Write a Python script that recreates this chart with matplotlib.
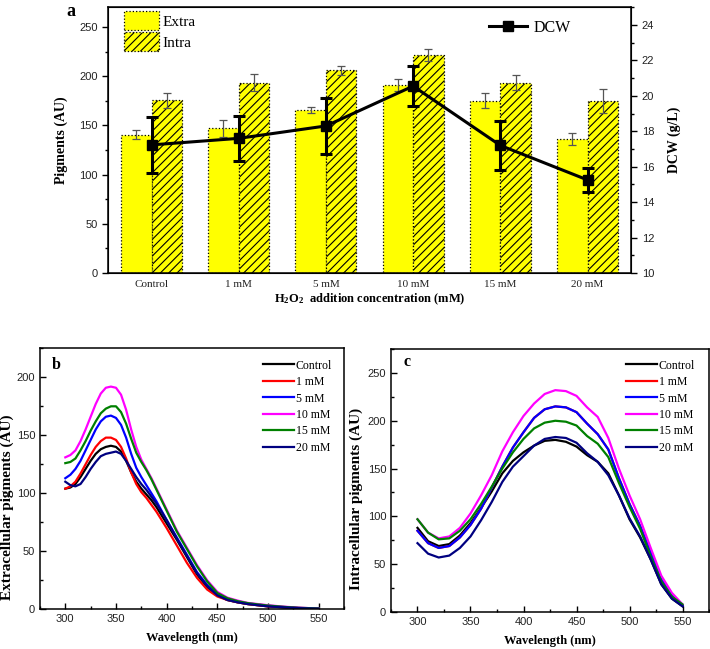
import matplotlib
matplotlib.use("Agg")
import matplotlib.pyplot as plt
import numpy as np
from matplotlib.patches import Patch
from matplotlib.lines import Line2D
from matplotlib.ticker import MultipleLocator

plt.rcParams['font.family'] = ['Liberation Serif', 'DejaVu Serif']
plt.rcParams['mathtext.fontset'] = 'custom'
plt.rcParams['mathtext.rm'] = 'Liberation Serif'
plt.rcParams['mathtext.bf'] = 'Liberation Serif:bold'
plt.rcParams['hatch.linewidth'] = 0.8

# ---------------- Panel a data ----------------
categories = ["Control", "1 mM", "5 mM", "10 mM", "15 mM", "20 mM"]
extra = [140.5, 147, 165.5, 191, 175, 136]
extra_err = [4.5, 8.5, 3, 6, 7.5, 6.3]
intra = [175.5, 193.5, 206, 221.5, 193.5, 175]
intra_err = [7.5, 9, 4.8, 6, 7.7, 12.2]
dcw = [17.23, 17.6, 18.3, 20.55, 17.2, 15.25]
dcw_err = [1.57, 1.28, 1.58, 1.15, 1.37, 0.7]

# ---------------- Panel b data (extracellular) ----------------
wavelength_b = [300, 305, 310, 315, 320, 325, 330, 335, 340, 345, 350, 355, 360, 365, 370, 375,
                380, 385, 390, 395, 400, 410, 420, 430, 440, 450, 460, 470, 480, 490, 500,
                510, 520, 530, 540, 550]
ext_control = [104, 105, 108, 114, 121, 128, 134, 138, 140, 141, 140, 136, 128, 118, 110, 104,
               99, 94, 88, 81, 74, 60, 45, 30, 19, 12, 8, 6, 4.5, 3.5, 2.5, 2, 1.5, 1, 0.8, 0.5]
ext_1mM = [104, 106, 110, 117, 125, 133, 140, 145, 148, 148, 146, 140, 130, 118, 108, 101,
           96, 90, 84, 77, 70, 55, 40, 27, 17, 11, 8, 6, 4.5, 3.5, 2.5, 2, 1.5, 1, 0.8, 0.5]
ext_5mM = [113, 116, 121, 128, 137, 146, 155, 162, 166, 167, 165, 159, 148, 134, 122, 114,
           107, 100, 93, 85, 77, 62, 47, 32, 21, 13, 9, 6.5, 5, 4, 3, 2.2, 1.6, 1.1, 0.8, 0.5]
ext_10mM = [131, 133, 137, 145, 155, 166, 177, 186, 191, 192, 191, 185, 172, 155, 140, 129,
            121, 113, 104, 95, 86, 68, 53, 38, 25, 15, 10, 7.5, 5.5, 4.5, 3.5, 2.7, 2, 1.5, 1, 0.8]
ext_15mM = [126, 127, 130, 137, 145, 154, 162, 169, 173, 175, 175, 170, 160, 147, 135, 127,
            120, 112, 103, 94, 85, 67, 52, 37, 24, 14, 9.5, 7, 5.3, 4.2, 3.2, 2.5, 1.8, 1.3, 1, 0.7]
ext_20mM = [110, 107, 106, 108, 114, 121, 127, 132, 134, 135, 136, 134, 128, 121, 114, 108,
            103, 97, 91, 84, 77, 61, 46, 31, 20, 12, 8, 6, 4.5, 3.5, 2.5, 2, 1.5, 1, 0.8, 0.5]

# ---------------- Panel c data (intracellular) ----------------
wavelength_c = [300, 310, 320, 330, 340, 350, 360, 370, 380, 390, 400, 410, 420,
                430, 440, 450, 460, 470, 480, 490, 500, 510, 520, 530, 540, 550]
int_control = [88, 74, 69, 71, 80, 93, 109, 126, 145, 158, 167, 174, 179, 180, 178, 173, 164, 157, 145, 122, 97, 78, 55, 29, 14, 6]
int_1mM = [85, 72, 67, 69, 78, 91, 108, 130, 152, 172, 188, 203, 212, 215, 214, 209, 197, 186, 170, 140, 113, 90, 62, 34, 17, 7]
int_5mM = [85, 72, 67, 69, 78, 91, 108, 130, 152, 172, 188, 203, 212, 215, 214, 209, 197, 186, 170, 140, 113, 90, 62, 34, 17, 7]
int_10mM = [97, 83, 77, 79, 88, 103, 122, 143, 168, 188, 205, 218, 228, 232, 231, 226, 214, 204, 182, 150, 122, 97, 67, 38, 20, 8]
int_15mM = [97, 83, 76, 77, 85, 97, 113, 131, 150, 167, 181, 192, 198, 200, 199, 195, 184, 176, 162, 135, 110, 87, 58, 32, 16, 8]
int_20mM = [72, 61, 57, 59, 67, 79, 96, 115, 136, 152, 163, 174, 181, 183, 182, 177, 166, 157, 143, 122, 98, 79, 55, 29, 14, 6]

series_labels = ["Control", "1 mM", "5 mM", "10 mM", "15 mM", "20 mM"]
series_colors = ["#000000", "#ff0000", "#0000ff", "#ff00ff", "#008000", "#000080"]
ext_series = [ext_control, ext_1mM, ext_5mM, ext_10mM, ext_15mM, ext_20mM]
int_series = [int_control, int_1mM, int_5mM, int_10mM, int_15mM, int_20mM]

SANS = 'Liberation Sans'
TICKCOL = '#222222'

fig = plt.figure(figsize=(7.10, 6.49), dpi=100)

# ================= Panel a =================
ax = fig.add_axes([0.152, 0.5794, 0.737, 0.4094])
x = np.arange(len(categories))
w = 0.35
yellow = '#ffff00'
ax.bar(x - w / 2, extra, width=w, color=yellow, edgecolor='black', linestyle=':', linewidth=0.9, zorder=2)
ax.bar(x + w / 2, intra, width=w, color=yellow, edgecolor='black', linestyle=':', linewidth=0.9,
       hatch='////', zorder=2)
ax.errorbar(x - w / 2, extra, yerr=extra_err, fmt='none', ecolor='#555555', elinewidth=0.9,
            capsize=3, capthick=0.9, zorder=3)
ax.errorbar(x + w / 2, intra, yerr=intra_err, fmt='none', ecolor='#555555', elinewidth=0.9,
            capsize=3, capthick=0.9, zorder=3)
ax.set_xlim(-0.5, 5.5)
ax.set_ylim(0, 270)
ax.set_xticks(x)
ax.set_xticklabels(categories, fontsize=8)
ax.tick_params(axis='x', length=0, pad=5, colors=TICKCOL)
ax.yaxis.set_major_locator(MultipleLocator(50))
ax.yaxis.set_minor_locator(MultipleLocator(25))
ax.tick_params(axis='y', which='major', direction='out', length=4, width=1)
ax.tick_params(axis='y', which='minor', direction='out', length=2.5, width=1)
for lab in ax.get_yticklabels():
    lab.set_fontfamily(SANS)
    lab.set_fontsize(8)
    lab.set_color(TICKCOL)
ax.set_ylabel("Pigments (AU)", fontsize=10, fontweight='bold', labelpad=8)
ax.set_xlabel(r"$\mathbf{H_2O_2}$  addition concentration (mM)", fontsize=9, fontweight='bold', labelpad=2)
for s in ax.spines.values():
    s.set_linewidth(1.1)

leg_handles = [Patch(facecolor=yellow, edgecolor='black', linestyle=':', linewidth=0.9),
               Patch(facecolor=yellow, edgecolor='black', linestyle=':', linewidth=0.9, hatch='////')]
ax.legend(leg_handles, ["Extra", "Intra"], loc='upper left', bbox_to_anchor=(0.03, 0.985),
          frameon=False, fontsize=11, handlelength=2.3, handleheight=1.55, labelspacing=0.12,
          handletextpad=0.25, borderaxespad=0, borderpad=0)

ax2 = ax.twinx()
ax2.errorbar(x, dcw, yerr=dcw_err, color='black', linewidth=2.2, marker='s', markersize=6.5,
             elinewidth=2.2, capsize=4, capthick=2.2, zorder=5)
ax2.set_ylim(10, 25)
ax2.yaxis.set_major_locator(MultipleLocator(2))
ax2.yaxis.set_minor_locator(MultipleLocator(1))
ax2.tick_params(axis='y', which='major', direction='out', length=4, width=1)
ax2.tick_params(axis='y', which='minor', direction='out', length=2.5, width=1)
for lab in ax2.get_yticklabels():
    lab.set_fontfamily(SANS)
    lab.set_fontsize(8)
    lab.set_color(TICKCOL)
ax2.set_ylabel("DCW (g/L)", fontsize=10, fontweight='bold', labelpad=10)
ax2.legend([Line2D([], [], color='black', linewidth=2.2, marker='s', markersize=6.5)], ["DCW"],
           loc='center left', bbox_to_anchor=(0.728, 0.922), frameon=False, fontsize=11.5,
           handlelength=2.4, handletextpad=0.4, borderaxespad=0, borderpad=0)
fig.text(0.094, 0.995, "a", fontsize=13, fontweight='bold', va='top', ha='left')


def spectrum_panel(rect, wl, series, ylim, ylabel, letter, letter_pos, label_xy, leg_anchor):
    a = fig.add_axes(rect)
    for vals, lab, col in zip(series, series_labels, series_colors):
        a.plot(wl, vals, color=col, linewidth=1.6, label=lab, solid_joinstyle='round')
    a.set_xlim(275, 575)
    a.set_ylim(*ylim)
    a.xaxis.set_major_locator(MultipleLocator(50))
    a.xaxis.set_minor_locator(MultipleLocator(25))
    a.yaxis.set_major_locator(MultipleLocator(50))
    a.yaxis.set_minor_locator(MultipleLocator(25))
    a.tick_params(which='major', direction='in', length=4, width=1)
    a.tick_params(which='minor', direction='in', length=2.5, width=1)
    for lab in a.get_xticklabels() + a.get_yticklabels():
        lab.set_fontfamily(SANS)
        lab.set_fontsize(8)
        lab.set_color(TICKCOL)
    a.set_xlabel("Wavelength (nm)", fontsize=9, fontweight='bold', labelpad=6)
    a.set_ylabel(ylabel, fontsize=11, fontweight='bold')
    a.yaxis.set_label_coords(*label_xy)
    for s in a.spines.values():
        s.set_linewidth(1.1)
    a.legend(loc='upper left', bbox_to_anchor=leg_anchor, frameon=False, fontsize=8.5,
             handlelength=2.6, handletextpad=0.15, labelspacing=0.38, borderaxespad=0, borderpad=0)
    a.text(letter_pos[0], letter_pos[1], letter, transform=a.transAxes, fontsize=11.5,
           fontweight='bold', va='center', ha='left')
    return a


spectrum_panel([0.0563, 0.0612, 0.4282, 0.4021], wavelength_b, ext_series, (0, 225),
               "Extracellular pigments (AU)", "b", (0.04, 0.935), (-0.085, 0.39), (0.735, 0.957))
spectrum_panel([0.5507, 0.057, 0.4479, 0.4052], wavelength_c, int_series, (0, 275),
               "Intracellular pigments (AU)", "c", (0.04, 0.95), (-0.088, 0.43), (0.74, 0.96))

fig.savefig("out.png", dpi=100)
